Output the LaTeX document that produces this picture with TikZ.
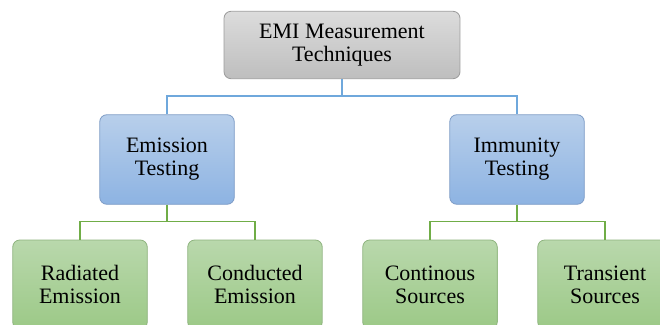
\documentclass[tikz,border=0pt]{standalone}
\usepackage{fontspec}
\setmainfont{Liberation Serif}[Ligatures=TeX]
\newfontfamily\boxfont{Liberation Serif}
\definecolor{gtop}{HTML}{DCDCDC}
\definecolor{gbot}{HTML}{BEBEBE}
\definecolor{gline}{HTML}{9C9C9C}
\definecolor{btop}{HTML}{B8CFEB}
\definecolor{bbot}{HTML}{8DB3E2}
\definecolor{bline}{HTML}{7E9CC6}
\definecolor{ntop}{HTML}{B9D8AC}
\definecolor{nbot}{HTML}{9CC987}
\definecolor{nline}{HTML}{8EB37E}
\definecolor{blueconn}{HTML}{6FA8DC}
\definecolor{greenconn}{HTML}{70AD47}
\tikzset{
  box/.style={rectangle, rounded corners=7pt, align=center, line width=0.8pt,
    font=\boxfont\fontsize{22}{23}\selectfont, text=black, inner sep=0pt},
  graybox/.style={box, draw=gline, top color=gtop, bottom color=gbot,
    minimum width=236pt, minimum height=67.4pt},
  bluebox/.style={box, draw=bline, top color=btop, bottom color=bbot,
    minimum width=134.5pt, minimum height=89.5pt},
  greenbox/.style={box, draw=nline, top color=ntop, bottom color=nbot,
    minimum width=134.5pt, minimum height=89pt},
  bconn/.style={draw=blueconn, line width=1.3pt},
  gconn/.style={draw=greenconn, line width=1.3pt}
}
\begin{document}
\begin{tikzpicture}[x=1pt,y=-1pt]
\clip (0,0) rectangle (660,324);
\fill[white] (0,0) rectangle (660,324);
\node[graybox] (top) at (342,45) {EMI Measurement\\Techniques};
\node[bluebox] (emis) at (167,159.5) {Emission\\Testing};
\node[bluebox] (imm) at (517,159.5) {Immunity\\Testing};
\node[greenbox] (rad) at (80,284.5) {Radiated\\Emission};
\node[greenbox] (con) at (255,284.5) {Conducted\\Emission};
\node[greenbox] (cs) at (430,284.5) {Continous\\Sources};
\node[greenbox] (ts) at (605,284.5) {Transient\\Sources};
\coordinate (bj) at (342,96);
\coordinate (gl) at (167,221.7);
\coordinate (gr) at (517,221.7);
\draw[bconn] (top.south) -- (bj);
\draw[bconn] (emis.north) |- (bj) -| (imm.north);
\draw[gconn] (emis.south) -- (gl);
\draw[gconn] (rad.north) |- (gl) -| (con.north);
\draw[gconn] (imm.south) -- (gr);
\draw[gconn] (cs.north) |- (gr) -| (ts.north);
\end{tikzpicture}
\end{document}
